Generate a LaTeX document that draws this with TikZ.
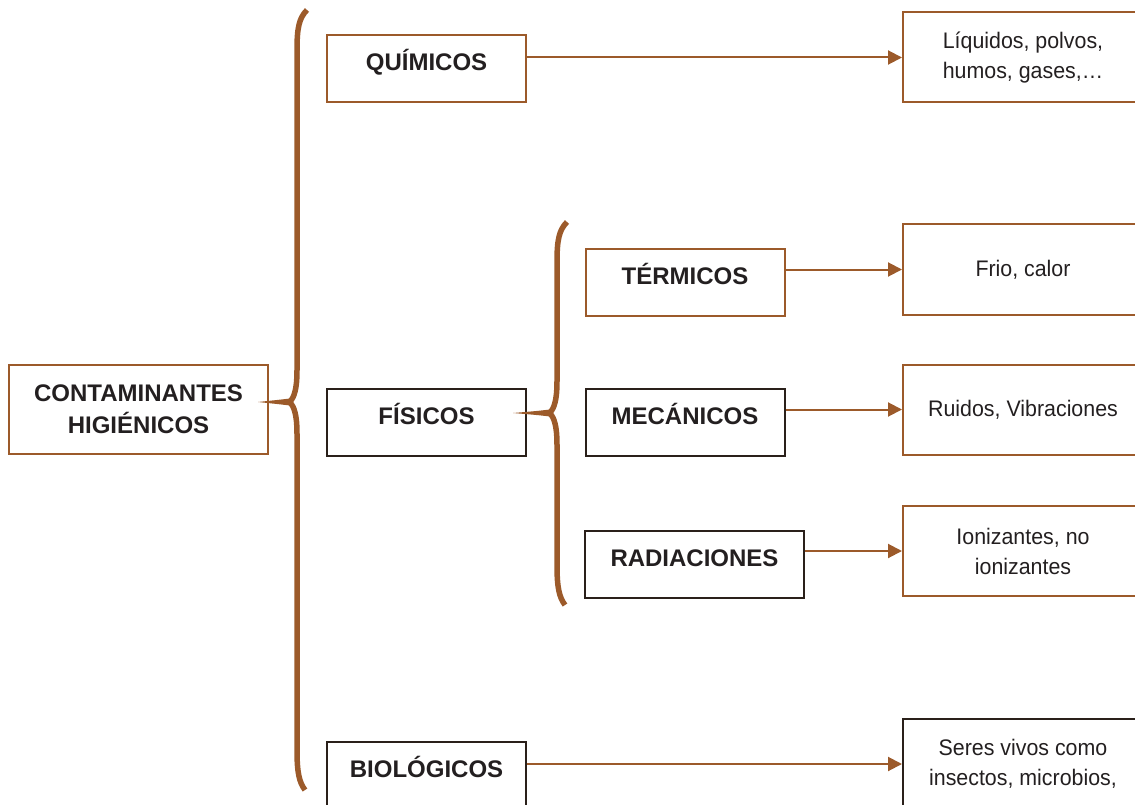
\documentclass[tikz,border=0pt]{standalone}
\usepackage{fontspec}
\setmainfont{Liberation Sans}
\newfontfamily\textofont[FakeStretch=0.95]{Liberation Sans}
\usetikzlibrary{arrows.meta}
\definecolor{cafe}{RGB}{156,90,42}
\definecolor{oscuro}{RGB}{42,32,26}
\definecolor{tinta}{RGB}{35,31,32}
\tikzset{
  caja/.style    = {shape=rectangle, draw=cafe, line width=2pt,
                    text=tinta, align=center, inner sep=0pt},
  raiz/.style    = {caja, font=\fontsize{24}{32}\selectfont\bfseries},
  tema/.style    = {caja, font=\fontsize{24}{32}\selectfont\bfseries,
                    minimum width=199pt, minimum height=67pt,
                    text height=17pt, text depth=13pt},
  detalle/.style = {caja, font=\textofont\fontsize{22.5}{30}\selectfont,
                    minimum width=240pt, minimum height=90pt},
  oscura/.style  = {draw=oscuro},
  flecha/.style  = {draw=cafe, line width=2pt, -{Triangle[length=14pt,width=14pt]}},
  llave/.style   = {draw=cafe, line width=5.5pt, line join=round}
}
% #1 spine x, #2 top y, #3 bottom y, #4 tip y, #5 tip x
\newcommand{\llave}[5]{%
  \draw[llave] ({#1+10},#2) .. controls ({#1+2},{#2+8}) and (#1,{#2+18}) .. (#1,{#2+40})
    -- (#1,{#4-32}) .. controls (#1,{#4-12}) and ({#1-3},{#4-5}) .. ({#1-7},#4)
    .. controls ({#1-3},{#4+5}) and (#1,{#4+12}) .. (#1,{#4+32})
    -- (#1,{#3-40}) .. controls (#1,{#3-18}) and ({#1+2},{#3-8}) .. ({#1+8},#3);
  \fill[cafe] ({#1-7},{#4-3.5}) .. controls ({#1-20},{#4-2}) .. (#5,#4)
    .. controls ({#1-20},{#4+2}) .. ({#1-7},{#4+3.5}) -- cycle;
}

\begin{document}
\begin{tikzpicture}[x=1pt,y=-1pt]
  \useasboundingbox (0,0) rectangle (1135,805);
  \clip (0,0) rectangle (1135,805);

  \node[raiz, minimum width=259pt, minimum height=89pt] (cont) at (138.5,409.5)
    {CONTAMINANTES\\HIGI\'ENICOS};

  \node[tema] (quim) at (426.5,68.5) {QU\'IMICOS};
  \node[tema, oscura] (fis) at (426.5,422.5) {F\'ISICOS};
  \node[tema, oscura] (bio) at (426.5,775.5) {BIOL\'OGICOS};

  \node[tema] (term) at (685,282.5) {T\'ERMICOS};
  \node[tema, oscura] (mec) at (685,422.5) {MEC\'ANICOS};
  \node[tema, oscura, minimum width=219pt] (rad) at (694.5,564.5) {RADIACIONES};

  \node[detalle] (liq) at (1023,57.5) {Líquidos, polvos,\\humos, gases,…};
  \node[detalle] (frio) at (1023,269.5) {Frio, calor};
  \node[detalle] (ruido) at (1023,409.5) {Ruidos, Vibraciones};
  \node[detalle] (ioni) at (1023,551) {Ionizantes, no\\ionizantes};
  \node[detalle, oscura] (seres) at (1023,764) {Seres vivos como\\insectos, microbios,};

  % llaves
  \llave{297}{10}{790}{402}{258}
  \llave{557}{222}{605}{413}{513}

  % flechas
  \draw[flecha] (quim.east |- liq.west) -- (liq.west);
  \draw[flecha] (term.east |- frio.west) -- (frio.west);
  \draw[flecha] (mec.east |- ruido.west) -- (ruido.west);
  \draw[flecha] (rad.east |- ioni.west) -- (ioni.west);
  \draw[flecha] (bio.east |- seres.west) -- (seres.west);
\end{tikzpicture}
\end{document}
